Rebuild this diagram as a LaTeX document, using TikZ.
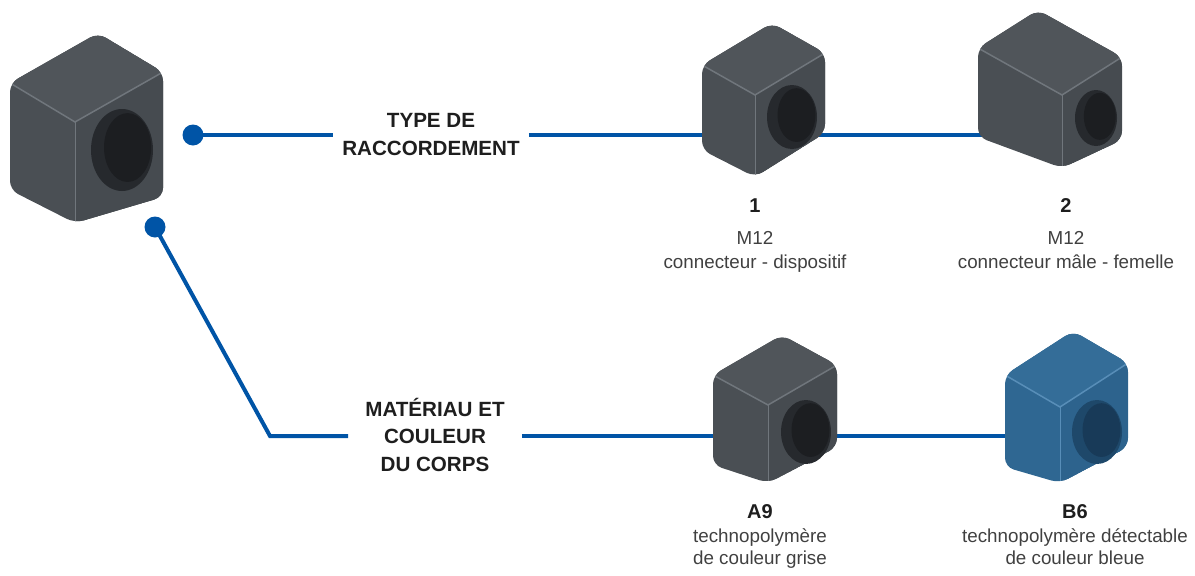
\documentclass[tikz,border=0pt]{standalone}
\usepackage{fontspec}
\setmainfont{Liberation Sans}
\usetikzlibrary{calc,backgrounds}

\definecolor{linkblue}{RGB}{0,84,166}
\definecolor{inkdark}{RGB}{30,30,30}
\definecolor{inkgrey}{RGB}{64,64,64}
\definecolor{greyside}{RGB}{74,79,84}
\definecolor{greytop}{RGB}{80,85,90}
\definecolor{greyright}{RGB}{70,75,80}
\definecolor{greyedge}{RGB}{112,118,124}
\definecolor{greyhole}{RGB}{38,41,45}
\definecolor{greydeep}{RGB}{28,30,33}
\definecolor{blueside}{RGB}{47,103,146}
\definecolor{bluetop}{RGB}{52,109,152}
\definecolor{blueright}{RGB}{45,99,141}
\definecolor{blueedge}{RGB}{88,142,184}
\definecolor{bluehole}{RGB}{30,72,106}
\definecolor{bluedeep}{RGB}{24,58,88}

\tikzstyle{link} = [draw=linkblue,line width=4pt]
\tikzstyle{hub} = [circle,fill=linkblue,minimum size=21pt,inner sep=0pt]
\tikzstyle{heading} = [font=\fontsize{20.6}{27.5}\selectfont\bfseries,text=inkdark,align=center,inner xsep=9pt]
\tikzstyle{code} = [font=\fontsize{20}{24}\selectfont\bfseries,text=inkdark,anchor=base]
\tikzstyle{caption} = [font=\fontsize{18.8}{22}\selectfont,text=inkgrey,anchor=base]

\begin{document}
\begin{tikzpicture}[x=1pt,y=-1pt]
      \useasboundingbox (0,0) rectangle (1195,576);

      %cubes
      \foreach \name/\lx/\ly/\fx/\fy/\rx/\ry/\lb/\fb/\rb/\hx/\hy/\ha/\hb/\tone in {
        main/10/83/75/122/163/72/190/223/197/122/150/31/41/grey,
        m12a/702/65/755/95/825/53/150/177/133/792/117/25/32/grey,
        m12b/978/48/1062/95/1122/57/137/168/140/1096/118/21/28/grey,
        a9/713/375/768/405/837/365/465/483/447/806/432/25/32/grey,
        b6/1005/375/1060/407/1128/363/467/483/447/1097/432/25/32/blue}
      {
        \coordinate (\name-L) at (\lx,\ly);
        \coordinate (\name-F) at (\fx,\fy);
        \coordinate (\name-R) at (\rx,\ry);
        \coordinate (\name-B) at ($(\name-L)+(\name-R)-(\name-F)$);
        \def\outline{(\name-L) -- (\name-B) -- (\name-R) -- (\rx,\rb) -- (\fx,\fb) -- (\lx,\lb) -- cycle}
        \fill[\tone side,rounded corners=9pt] \outline;
        \begin{scope}
          \clip[rounded corners=9pt] \outline;
          \fill[\tone top] (\name-L) -- (\name-F) -- (\name-R) -- (\name-B) -- cycle;
          \fill[\tone right] (\name-F) -- (\name-R) -- (\rx,\rb) -- (\fx,\fb) -- cycle;
          \draw[\tone edge,line width=1.5pt] (\name-L) -- (\name-F) -- (\name-R);
          \draw[\tone edge,line width=0.6pt] (\name-F) -- (\fx,\fb);
        \end{scope}
        \fill[\tone hole] (\hx,\hy) ellipse [x radius=\ha, y radius=\hb];
        \fill[\tone deep] ($(\hx,\hy)+(0.18*\ha,-0.06*\hb)$) ellipse [x radius=0.76*\ha, y radius=0.84*\hb];
      };

      %labels
      \node[heading] (typehead) at (431,134.5) {TYPE DE\\RACCORDEMENT};
      \node[heading,inner xsep=17pt] (mathead) at (435,434.5) {MATÉRIAU ET\\COULEUR\\DU CORPS};
      \foreach \name/\x/\code/\ya/\first/\yb/\second/\yc in {
        one/755/1/212/M12/244/connecteur - dispositif/268,
        two/1066/2/212/M12/244/connecteur mâle - femelle/268,
        grey/760/A9/518/technopolymère/542/de couleur grise/564,
        blue/1075/B6/518/technopolymère détectable/542/de couleur bleue/564}
      {
        \node[code] (\name-code) at (\x,\ya) {\code};
        \node[caption] (\name-first) at (\x,\yb) {\first};
        \node[caption] (\name-second) at (\x,\yc) {\second};
      };

      %edges
      \node[hub] (hub1) at (193,135) {};
      \node[hub] (hub2) at (155,227) {};
      \coordinate (elbow) at (270,436);
      \begin{pgfonlayer}{background}
        \draw[link] (hub1.center) -- (hub1 -| typehead.west);
        \draw[link] (typehead.east |- hub1) -- (m12b-F |- hub1);
        \draw[link] (hub2.center) -- (elbow) -- (elbow -| mathead.west);
        \draw[link] (mathead.east |- elbow) -- (b6-F |- elbow);
      \end{pgfonlayer}
    \end{tikzpicture}
\end{document}
